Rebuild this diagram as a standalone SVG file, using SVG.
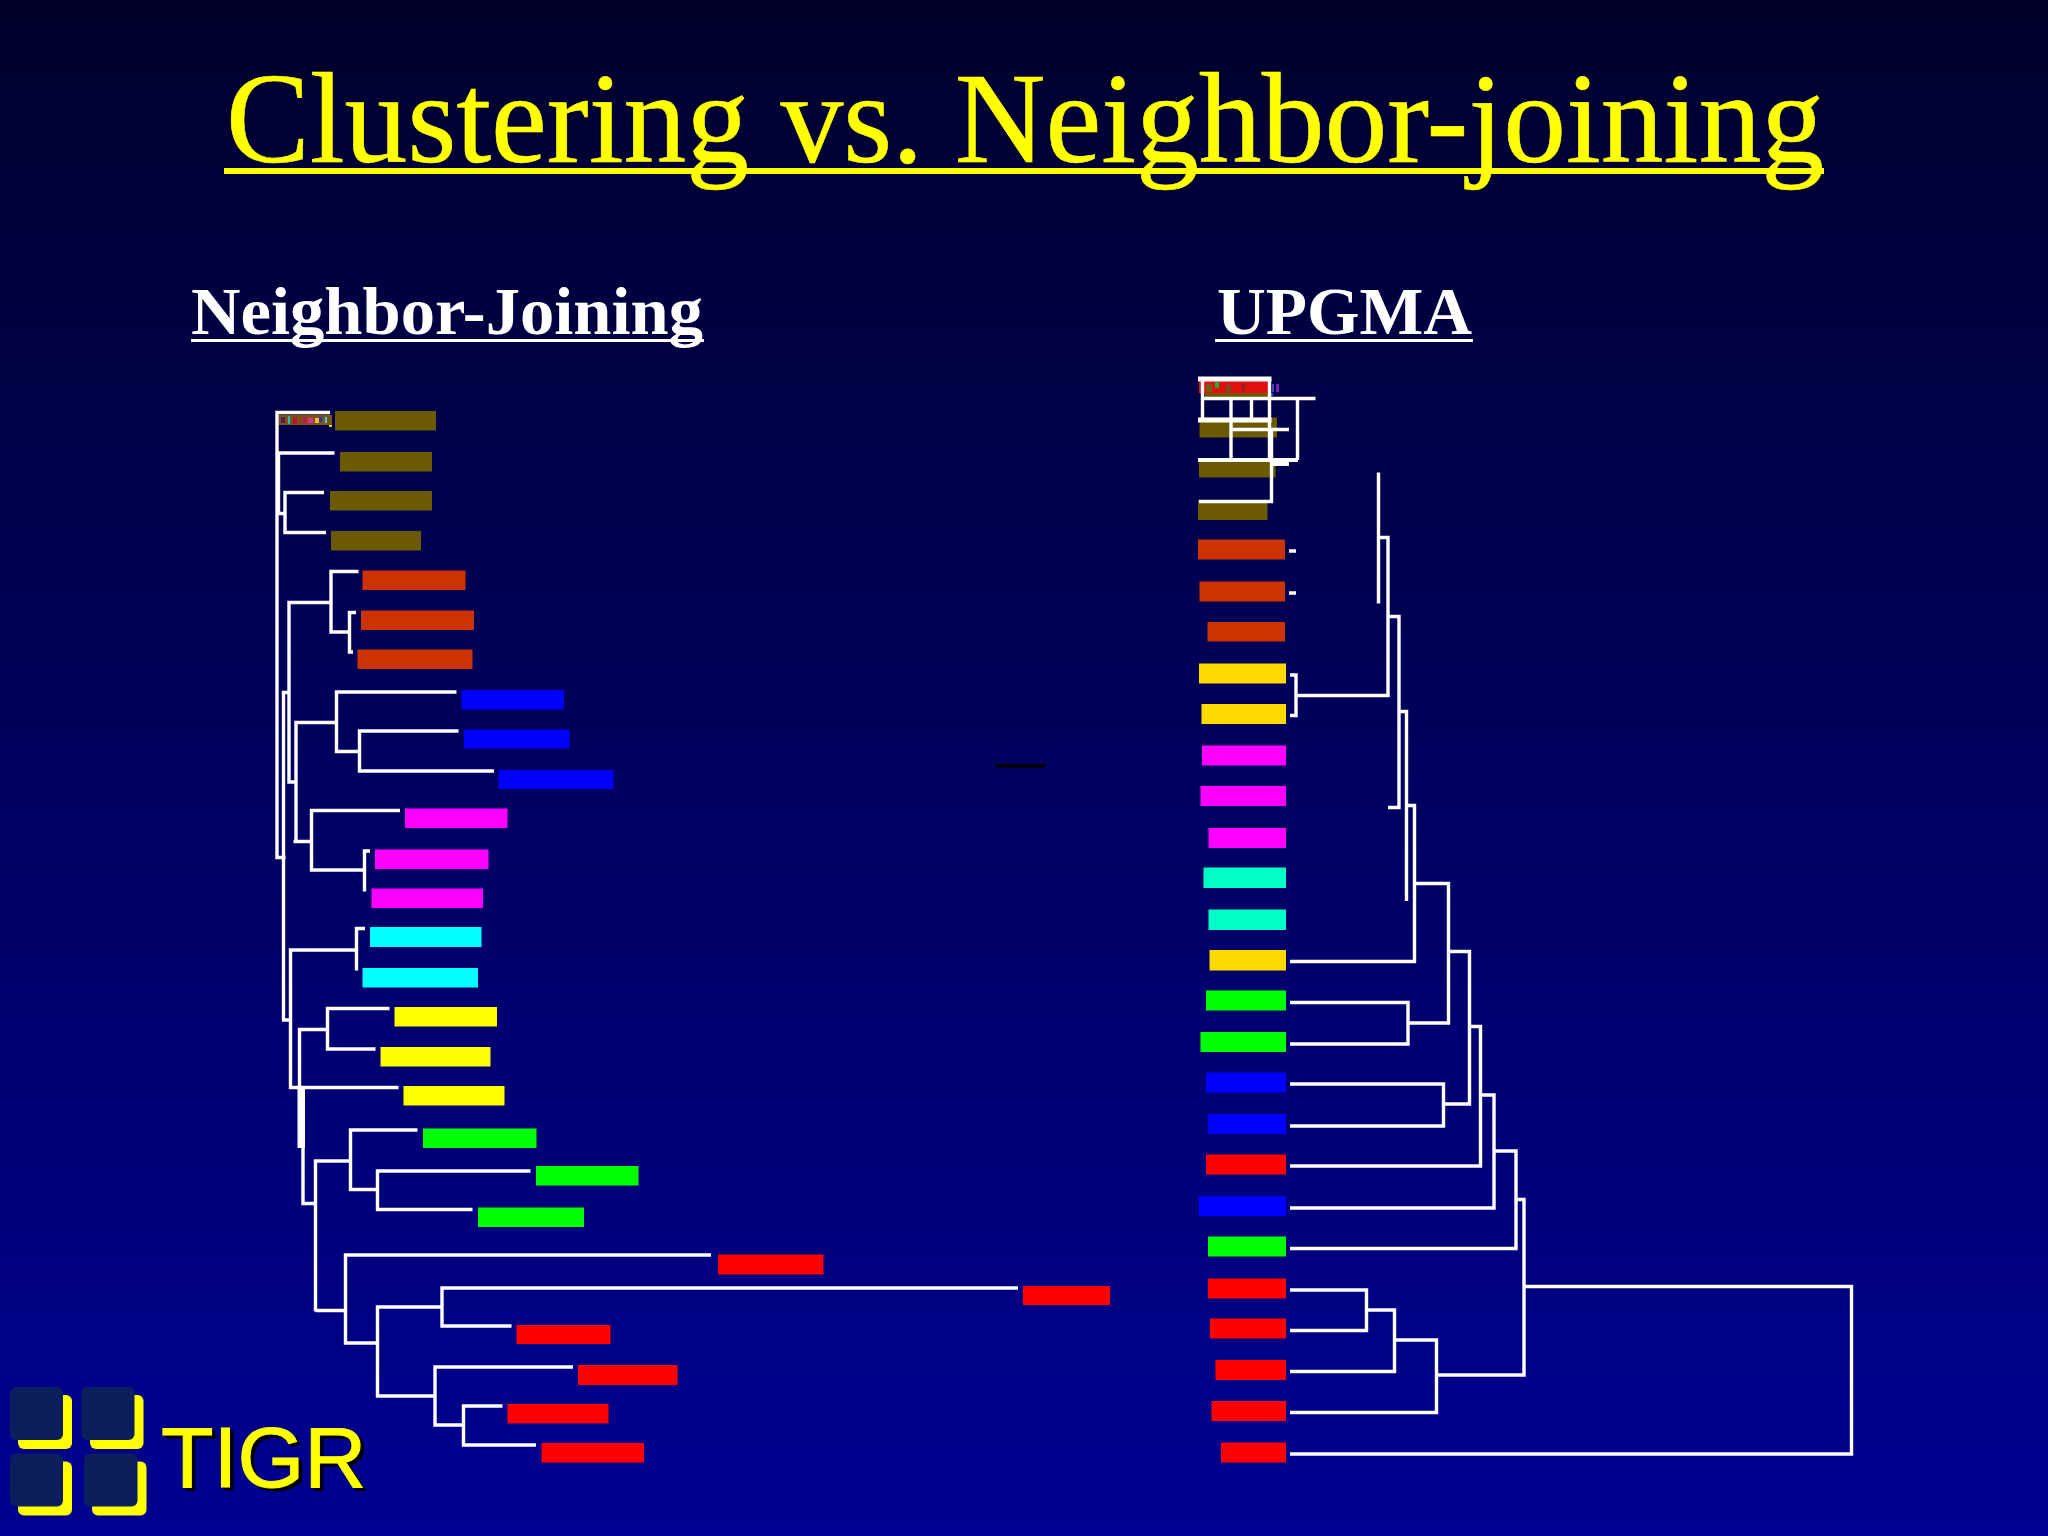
<svg xmlns="http://www.w3.org/2000/svg" width="2048" height="1536" viewBox="0 0 2048 1536">
<defs>
<linearGradient id="bg" x1="0" y1="0" x2="0" y2="1"><stop offset="0" stop-color="#00002c"/><stop offset="1" stop-color="#000092"/></linearGradient>
</defs>
<style>
.ol{fill:#6b5a00}.or{fill:#cc3300}.bl{fill:#0000ff}.mg{fill:#ff00ff}.cy{fill:#00ffff}.ye{fill:#ffff00}.gr{fill:#00ff00}.rd{fill:#ff0000}.gd{fill:#ffd900}.te{fill:#00ffc4}
.c{fill:none;stroke:#fff;stroke-width:3.4;stroke-linejoin:miter}
.h{font-family:"Liberation Serif","Times New Roman",serif}
.tile{fill:#0a1f5c}.back{fill:#ffff00}
</style>
<rect width="2048" height="1536" fill="url(#bg)"/>
<g id="title">
<text class="h" x="226" y="162" font-size="129" fill="#ffff00" stroke="#ffff00" stroke-width="0.6" textLength="1598" lengthAdjust="spacingAndGlyphs">Clustering vs. Neighbor-joining</text>
<rect x="224" y="168" width="1600" height="6" fill="#ffff00"/>
</g>
<g id="head-nj">
<text class="h" x="191" y="334" font-size="67" font-weight="bold" fill="#fff" textLength="512" lengthAdjust="spacingAndGlyphs">Neighbor-Joining</text>
<rect x="191" y="339" width="513" height="3" fill="#fff"/>
</g>
<g id="head-upgma">
<text class="h" x="1217" y="334" font-size="67" font-weight="bold" fill="#fff" textLength="255" lengthAdjust="spacingAndGlyphs">UPGMA</text>
<rect x="1215" y="339" width="258" height="3" fill="#fff"/>
</g>
<g id="nj-leaves">
<g id="nj1"><rect class="ol" x="335" y="411" width="101" height="19.5"/></g>
<g id="nj2"><rect class="ol" x="340" y="452" width="92" height="19.5"/></g>
<g id="nj3"><rect class="ol" x="330" y="491" width="102" height="19.5"/></g>
<g id="nj4"><rect class="ol" x="331" y="531" width="90" height="19.5"/></g>
<g id="nj5"><rect class="or" x="362.5" y="570.5" width="103" height="19.5"/></g>
<g id="nj6"><rect class="or" x="361" y="610.5" width="113" height="19.5"/></g>
<g id="nj7"><rect class="or" x="357.5" y="649.5" width="115" height="19.5"/></g>
<g id="nj8"><rect class="bl" x="461.5" y="690" width="102.5" height="19.5"/></g>
<g id="nj9"><rect class="bl" x="464" y="729.5" width="105.5" height="19"/></g>
<g id="nj10"><rect class="bl" x="498.5" y="770" width="115" height="19"/></g>
<g id="nj11"><rect class="mg" x="405" y="808.5" width="102.5" height="19.5"/></g>
<g id="nj12"><rect class="mg" x="375" y="849.5" width="113.5" height="19.5"/></g>
<g id="nj13"><rect class="mg" x="371.5" y="888.5" width="111.5" height="19.5"/></g>
<g id="nj14"><rect class="cy" x="370" y="927" width="111.5" height="20"/></g>
<g id="nj15"><rect class="cy" x="362.5" y="968" width="115.5" height="19.5"/></g>
<g id="nj16"><rect class="ye" x="394.5" y="1007" width="102.5" height="19.5"/></g>
<g id="nj17"><rect class="ye" x="380.5" y="1047" width="110" height="19.5"/></g>
<g id="nj18"><rect class="ye" x="403.5" y="1086" width="101" height="19.5"/></g>
<g id="nj19"><rect class="gr" x="423" y="1128.5" width="113.5" height="19.5"/></g>
<g id="nj20"><rect class="gr" x="536" y="1166" width="102.5" height="19.5"/></g>
<g id="nj21"><rect class="gr" x="478" y="1207.5" width="106" height="19.5"/></g>
<g id="nj22"><rect class="rd" x="718" y="1254.5" width="105.5" height="20"/></g>
<g id="nj23"><rect class="rd" x="1023" y="1286" width="87" height="19"/></g>
<g id="nj24"><rect class="rd" x="516.5" y="1325" width="94" height="19"/></g>
<g id="nj25"><rect class="rd" x="578" y="1365" width="99.5" height="20"/></g>
<g id="nj26"><rect class="rd" x="507.5" y="1404" width="101" height="19.5"/></g>
<g id="nj27"><rect class="rd" x="541.5" y="1443" width="102.5" height="19.5"/></g>
</g>
<g id="upgma-leaves">
<g id="up1"><rect class="ol" x="1205" y="381" width="63" height="16"/></g>
<g id="up2"><rect class="ol" x="1199.5" y="417.5" width="77.5" height="20"/></g>
<g id="up3"><rect class="ol" x="1199" y="458" width="76.5" height="19.5"/></g>
<g id="up4"><rect class="ol" x="1198" y="500" width="69.5" height="20"/></g>
<g id="up5"><rect class="or" x="1198" y="539.5" width="87" height="20"/></g>
<g id="up6"><rect class="or" x="1199.5" y="581.5" width="85.5" height="20"/></g>
<g id="up7"><rect class="or" x="1207.5" y="622" width="77.5" height="19.5"/></g>
<g id="up8"><rect class="gd" x="1199" y="663.5" width="87" height="20"/></g>
<g id="up9"><rect class="gd" x="1201.5" y="704" width="84.5" height="20"/></g>
<g id="up10"><rect class="mg" x="1202" y="745.5" width="84" height="20"/></g>
<g id="up11"><rect class="mg" x="1200.5" y="786" width="85.5" height="20"/></g>
<g id="up12"><rect class="mg" x="1208.5" y="828" width="77.5" height="20"/></g>
<g id="up13"><rect class="te" x="1203.5" y="867.5" width="82.5" height="20.5"/></g>
<g id="up14"><rect class="te" x="1208.5" y="909.5" width="77.5" height="20.5"/></g>
<g id="up15"><rect class="gd" x="1209.5" y="950" width="76.5" height="20.5"/></g>
<g id="up16"><rect class="gr" x="1206" y="990.5" width="80" height="20"/></g>
<g id="up17"><rect class="gr" x="1200.5" y="1032" width="85.5" height="20"/></g>
<g id="up18"><rect class="bl" x="1206" y="1072.5" width="80" height="20"/></g>
<g id="up19"><rect class="bl" x="1208" y="1114" width="78" height="20"/></g>
<g id="up20"><rect class="rd" x="1206" y="1154.5" width="80" height="20"/></g>
<g id="up21"><rect class="bl" x="1199" y="1196" width="87" height="20"/></g>
<g id="up22"><rect class="gr" x="1208" y="1236.5" width="78" height="20"/></g>
<g id="up23"><rect class="rd" x="1208" y="1278.5" width="78" height="20"/></g>
<g id="up24"><rect class="rd" x="1210" y="1318.5" width="76" height="20"/></g>
<g id="up25"><rect class="rd" x="1215.5" y="1360" width="70.5" height="20"/></g>
<g id="up26"><rect class="rd" x="1211.5" y="1401" width="74.5" height="20"/></g>
<g id="up27"><rect class="rd" x="1221" y="1442.5" width="65" height="20"/></g>
</g>
<g id="label-smear-nj">
<rect x="279" y="415" width="53" height="10" fill="#7a5410"/>
<rect x="281" y="417" width="4" height="6" fill="#5a1a60"/><rect x="288" y="416" width="2" height="8" fill="#20c0c0"/><rect x="293" y="417" width="4" height="7" fill="#c01030"/><rect x="303" y="417" width="3" height="7" fill="#d01060"/><rect x="308" y="418" width="5" height="5" fill="#e030a0"/><rect x="315" y="418" width="4" height="5" fill="#f0c020"/><rect x="319" y="417" width="3" height="5" fill="#3030c0"/><rect x="325" y="417" width="2" height="6" fill="#40d0d0"/><rect x="329" y="425" width="3" height="2" fill="#e8d020"/>
</g>
<g id="label-smear-up">
<rect x="1199" y="381" width="69" height="12" fill="#e01010"/>
<rect x="1206" y="384" width="6" height="8" fill="#7a5a10"/><rect x="1215" y="382" width="4" height="6" fill="#20b040"/><rect x="1226" y="385" width="5" height="7" fill="#7a4a20"/><rect x="1242" y="384" width="3" height="7" fill="#902020"/><rect x="1268" y="383" width="3" height="9" fill="#30a040"/><rect x="1272" y="384" width="2" height="8" fill="#4040d0"/><rect x="1276" y="384" width="3" height="8" fill="#8020b0"/><rect x="1269" y="393" width="4" height="3" fill="#2040ff"/>
</g>
<g id="scale-bar"><rect x="996" y="764" width="49" height="3.5" fill="#000"/></g>
<g id="connectors">
<g id="nj-connectors">
<path class="c" d="M330 412.5H277V857.5H285.5"/>
<path class="c" d="M278 453H334.5M278.5 453V513.5H285M324 492.5H285V532.5H326"/>
<path class="c" d="M331 602.5H289V782H295M358.5 571.5H331V632H349.5M356 612.5H349.5V652H353"/>
<path class="c" d="M288 692.5H283.5V1020M282 1020H292"/>
<path class="c" d="M296 841.5V722.5H336.5M456.5 692H336.5V751.5H359.5M458.5 731H359.5V771H494"/>
<path class="c" d="M293.5 841.5H311.5M400 810.5H311.5V870H364.5M370 851H364.5V891.5"/>
<path class="c" d="M356 950H290.5V1087.5H398.5M365 928.5H356.5V970.5"/>
<path class="c" d="M327.5 1029.5H299.5V1088M389.5 1008.5H327.5V1049H375.5"/>
<rect x="297.5" y="1088" width="7.5" height="60" fill="#fff"/>
<path class="c" d="M303 1148V1203.5H315.5M350.5 1161H315.5V1311.5M417.5 1130H350.5V1189.5H377.5M530.5 1171H377.5V1209.5H472.5"/>
<path class="c" d="M315.5 1310.5H345.5M711 1255H345.5V1343H377.5"/>
<path class="c" d="M442 1307H377.5V1396H435M1018 1288H442V1326H511.5M573 1367H435V1425H463.5M502.5 1406H463.5V1445H536"/>
</g>
<g id="upgma-connectors">
<path class="c" d="M1290 1454H1851.5V1286.5H1524"/>
<path class="c" d="M1516 1199.5H1524V1375H1436.5M1290 1412.5H1436.5V1340H1394.5M1290 1371.5H1394.5V1310H1366.5M1290 1290H1366.5V1330.5H1290"/>
<path class="c" d="M1290 1248.5H1516V1151H1494M1290 1208H1494V1095H1481M1290 1166H1480.5V1026.5H1470"/>
<path class="c" d="M1443.5 1104H1469.5V951.5H1448.5M1290 1084H1443.5V1126H1290"/>
<path class="c" d="M1408 1023H1448.5V883.5H1415M1290 1002.5H1408V1044H1290"/>
<path class="c" d="M1290 961.5H1414.5V805.5H1407M1406.5 901V711.5H1399M1388 807.5H1399V616.5H1388.5M1296 695.5H1388V537.5H1378.5M1378.5 472.5V603.5"/>
<path class="c" d="M1290 675H1296V715.5H1290"/>
<path class="c" d="M1289 551H1296M1289 593H1296"/>
<path d="M1198 379H1271.5M1198 420H1271.5" fill="none" stroke="#fff" stroke-width="5"/>
<path class="c" d="M1202.5 379V420M1269.5 379V459M1202.5 398.5H1315.5M1231 398.5V460M1251.5 398.5V420M1297.5 398.5V460"/>
<path d="M1198 460H1298M1272 464H1289" fill="none" stroke="#fff" stroke-width="4"/>
<path class="c" d="M1231 429.5H1289M1271.5 429V501.5H1199"/>
</g>
</g>
<g id="logo">
<g id="tile1"><rect class="back" x="18" y="1395" width="54" height="54" rx="6"/><rect class="tile" x="10" y="1387" width="53" height="53" rx="6"/></g>
<g id="tile2"><rect class="back" x="90" y="1395" width="53.5" height="54" rx="6"/><rect class="tile" x="81.5" y="1387" width="53" height="53" rx="6"/></g>
<g id="tile3"><rect class="back" x="18" y="1461.5" width="54" height="54" rx="6"/><rect class="tile" x="10" y="1453.5" width="53" height="53" rx="6"/></g>
<g id="tile4"><rect class="back" x="92" y="1461.5" width="54.5" height="54" rx="6"/><rect class="tile" x="84" y="1453.5" width="53.5" height="53" rx="6"/></g>
<text x="164.5" y="1490" font-family="'Liberation Sans',Arial,sans-serif" font-size="86" fill="#000" stroke="#000" stroke-width="1">TIGR</text>
<text x="161" y="1486.5" font-family="'Liberation Sans',Arial,sans-serif" font-size="86" fill="#ffff00" stroke="#ffff00" stroke-width="1">TIGR</text>
</g>
</svg>
